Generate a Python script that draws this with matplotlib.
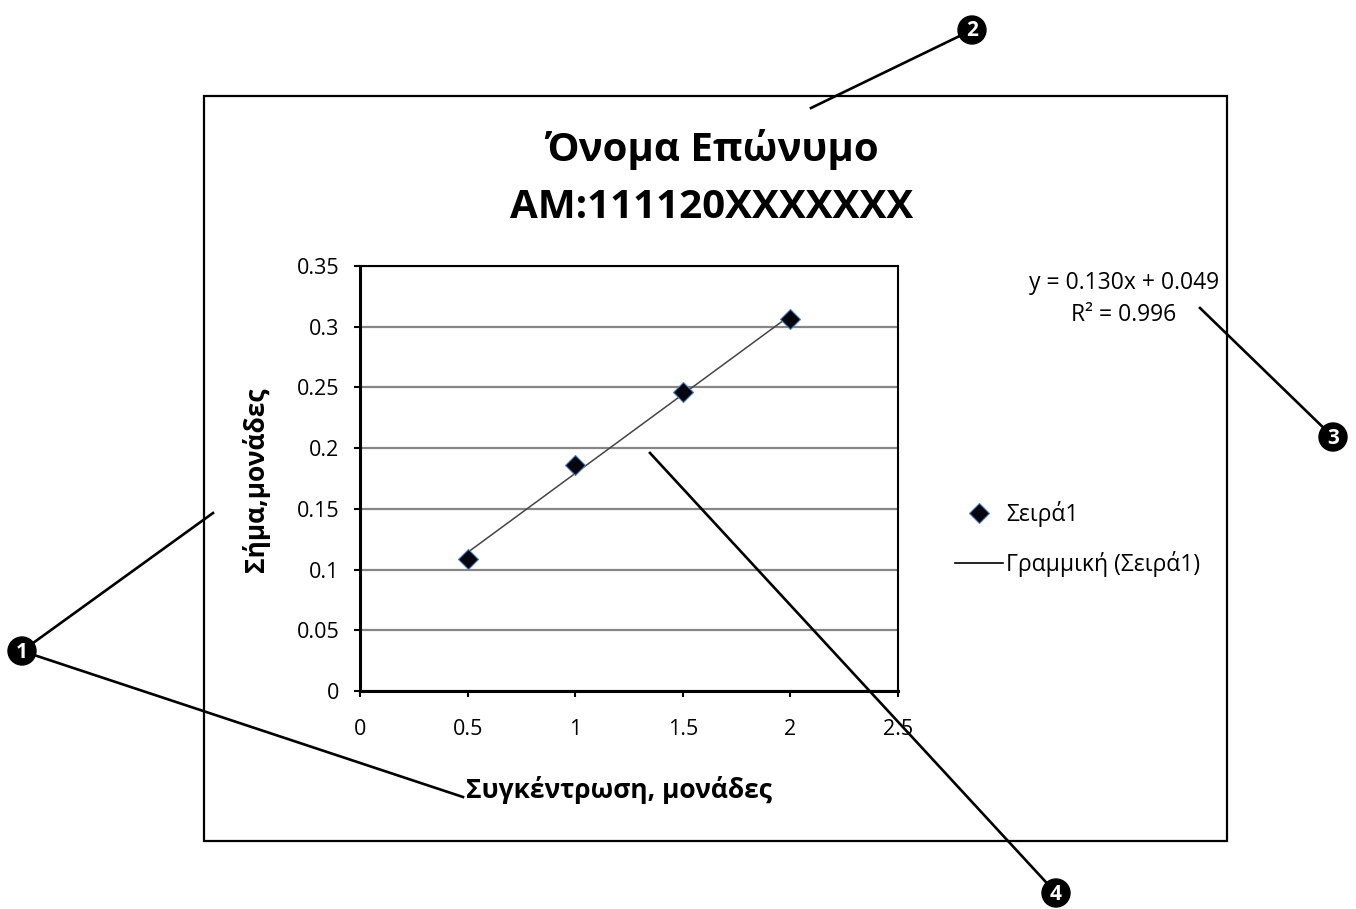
import numpy as np
import matplotlib
matplotlib.use('Agg')
import matplotlib.pyplot as plt
from matplotlib.lines import Line2D
from matplotlib.patches import Rectangle, Circle

plt.rcParams['font.family'] = ['Open Sans', 'Noto Sans', 'DejaVu Sans']

# δεδομένα βαθμονόμησης
conc = np.array([0.5, 1.0, 1.5, 2.0])
signal = np.array([0.109, 0.186, 0.246, 0.306])

title_lines = ['Όνομα Επώνυμο', 'AM:111120XXXXXXX']
xlabel = 'Συγκέντρωση, μονάδες'
ylabel = 'Σήμα,μονάδες'
series_name = 'Σειρά1'
trend_name = 'Γραμμική (Σειρά1)'
xticks = [0, 0.5, 1, 1.5, 2, 2.5]
yticks = [0, 0.05, 0.1, 0.15, 0.2, 0.25, 0.3, 0.35]

# γραμμική προσαρμογή
slope, icpt = np.polyfit(conc, signal, 1)
pred = slope * conc + icpt
r2 = 1 - np.sum((signal - pred) ** 2) / np.sum((signal - signal.mean()) ** 2)

W, H = 1356, 909
fig = plt.figure(figsize=(W / 100, H / 100), dpi=100)

ax = fig.add_axes([360 / W, 1 - 691 / H, 538 / W, 425 / H])
ax.set_xlim(0, 2.5)
ax.set_ylim(0, 0.35)
ax.set_xticks(xticks)
ax.set_xticklabels(['0', '0.5', '1', '1.5', '2', '2.5'])
ax.set_yticks(yticks)
ax.set_yticklabels(['0', '0.05', '0.1', '0.15', '0.2', '0.25', '0.3', '0.35'])
ax.yaxis.grid(True, color='#868686', lw=1.6)
ax.set_axisbelow(True)
for s in ax.spines.values():
    s.set_color('black')
    s.set_linewidth(1.5)
ax.spines['left'].set_linewidth(2.2)
ax.spines['bottom'].set_linewidth(2.2)
ax.tick_params(axis='x', direction='out', length=4, width=1.5, pad=16, labelsize=15.5)
ax.tick_params(axis='y', direction='out', length=4, width=1.5, pad=11, labelsize=15.5)

xs = np.array([conc.min(), conc.max()])
ax.plot(xs, slope * xs + icpt, color='#454545', lw=1.1, zorder=3)
ax.plot(conc, signal, ls='none', marker='D', ms=10.5, mfc='#050510',
        mec='#4f7fb8', mew=0.8, zorder=4)

ax.set_xlabel(xlabel, fontsize=19, fontweight='bold')
ax.xaxis.set_label_coords(0.481, -0.2)
ax.set_ylabel(ylabel, fontsize=19, fontweight='bold')
ax.yaxis.set_label_coords(-0.168, 0.496)

handles = [
    Line2D([], [], ls='none', marker='D', ms=10.5, mfc='#050510', mec='#4f7fb8', mew=0.8),
    Line2D([], [], color='black', lw=1.2),
]
fig.legend(handles, [series_name, trend_name], loc='center left',
           bbox_to_anchor=(955 / W, 1 - 539 / H), frameon=False, fontsize=16.5,
           handlelength=2.1, handletextpad=0.12, labelspacing=1.02,
           borderpad=0, borderaxespad=0)

eq = f'y = {slope:.3f}x + {icpt:.3f}\nR² = {r2:.3f}'
fig.text(1124 / W, 1 - 299 / H, eq, ha='center', va='center', fontsize=16.5,
         linespacing=1.4, multialignment='center')

fig.text(712 / W, 1 - 150 / H, title_lines[0], ha='center', va='center',
         fontsize=29, fontweight='bold')
fig.text(712 / W, 1 - 207 / H, title_lines[1], ha='center', va='center',
         fontsize=29, fontweight='bold')

# πλαίσιο γραφήματος και αριθμημένες επισημάνσεις
ov = fig.add_axes([0, 0, 1, 1], zorder=10)
ov.set_xlim(0, W)
ov.set_ylim(H, 0)
ov.axis('off')
ov.patch.set_alpha(0)
ov.add_patch(Rectangle((204, 96), 1023, 745, fill=False, ec='black', lw=1.6))

callouts = {
    '1': ((22, 651), [(213, 513), (463, 797)]),
    '2': ((972, 30), [(811, 108)]),
    '3': ((1333, 437), [(1200, 308)]),
    '4': ((1056, 893), [(650, 453)]),
}
for num, (c, ends) in callouts.items():
    for e in ends:
        ov.plot([c[0], e[0]], [c[1], e[1]], color='black', lw=1.9)
    ov.add_patch(Circle(c, 14, color='black', zorder=5))
    ov.text(c[0], c[1] + 1, num, color='white', fontsize=15, fontweight='bold',
            ha='center', va='center', zorder=6)

fig.savefig('out.png', dpi=100, facecolor='white')
